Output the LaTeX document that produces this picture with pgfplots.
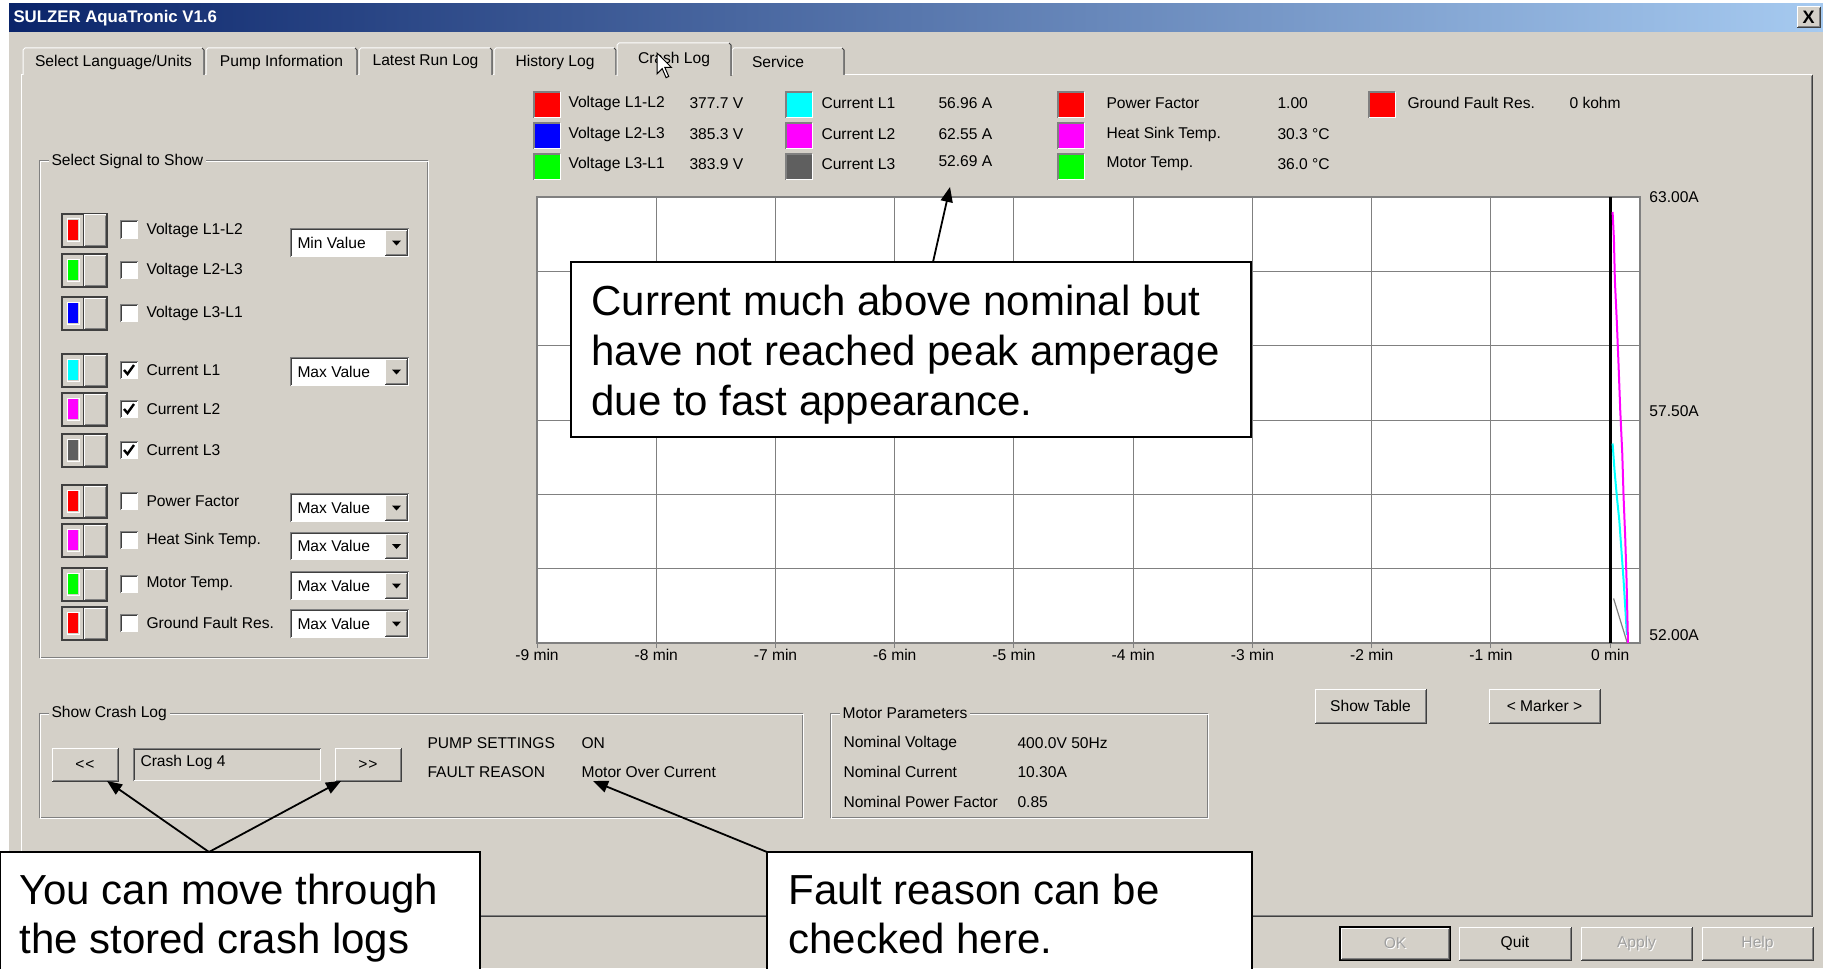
\documentclass[border=0pt]{standalone}
\usepackage{fontspec}
\setmainfont{Liberation Sans}
\usepackage{pgfplots}
\pgfplotsset{compat=1.18}
\usetikzlibrary{arrows.meta}

\definecolor{guibg}{HTML}{D4D0C8}
\definecolor{navy}{HTML}{0A246A}
\definecolor{ltblue}{HTML}{A6CAF0}
\definecolor{shadow}{HTML}{808080}
\definecolor{dkshadow}{HTML}{404040}
\definecolor{swgray}{HTML}{5F5F5F}
\definecolor{grn}{HTML}{00FF00}
\definecolor{cyn}{HTML}{00FFFF}
\definecolor{mag}{HTML}{FF00FF}
\definecolor{disabled}{HTML}{A0A0A0}

\newcommand\gui{\fontsize{7.8}{9}\selectfont}
\newcommand\callout{\fontsize{21}{25}\selectfont}

% widgets, all in screen pixels
\newcommand\raised[4]{%
  \fill[guibg] (#1,#2) rectangle (#3,#4);
  \draw[white] (#1,#4) -- (#1,#2) -- (#3,#2);
  \draw[dkshadow] (#1,#4) -- (#3,#4) -- (#3,#2);
  \draw[shadow] (#1+1,#4-1) -- (#3-1,#4-1) -- (#3-1,#2+1);
}
\newcommand\sunken[4]{%
  \fill[white] (#1,#2) rectangle (#3,#4);
  \draw[shadow] (#1,#4) -- (#1,#2) -- (#3,#2);
  \draw[dkshadow] (#1+1,#4-1) -- (#1+1,#2+1) -- (#3-1,#2+1);
}
\newcommand\group[5]{%
  \draw[shadow] (#1,#2) rectangle (#3,#4);
  \draw[white] (#1+1,#2+1) rectangle (#3+1,#4+1);
  \node[fill=guibg, inner xsep=1.5pt, inner ysep=0pt, anchor=west] at (#1+9,#2) {\gui #5};
}
\newcommand\txt[3]{\node[anchor=west, inner sep=0pt] at (#1,#2) {\gui #3};}
\newcommand\swatch[3]{%
  \fill[#3] (#1,#2-13) rectangle (#1+26,#2+13);
  \draw[shadow, line width=1pt] (#1,#2+13) -- (#1,#2-13) -- (#1+26,#2-13);
  \draw[white] (#1,#2+13) -- (#1+26,#2+13) -- (#1+26,#2-13);
}
\newcommand\colbtn[2]{%
  \fill[guibg] (62,#1-16) rectangle (107,#1+17);
  \draw[dkshadow, line width=1pt] (62,#1-16) rectangle (107,#1+17);
  \fill[#2] (68,#1-10) rectangle (78,#1+10);
  \draw[white] (67,#1-11) rectangle (79,#1+11);
  \raised{84}{#1-15}{106}{#1+16}
  \draw[dkshadow] (83,#1-15) -- (83,#1+16);
}
\newcommand\chk[1]{\sunken{120}{#1-9}{138}{#1+9}}
\newcommand\dropdown[3]{%
  \sunken{290}{#1}{409}{#2}
  \txt{297}{{(#1+#2)/2}}{#3}
  \raised{385}{#1+2}{407}{#2-2}
  \fill[black] (392,{(#1+#2)/2-2}) -- (401,{(#1+#2)/2-2}) -- (396.5,{(#1+#2)/2+3}) -- cycle;
}
\newcommand\btn[5]{%
  \raised{#1}{#2}{#3}{#4}
  \node[inner sep=0pt] at ({(#1+#3)/2},{(#2+#4)/2}) {\gui #5};
}
\newcommand\offbtn[5]{%
  \raised{#1}{#2}{#3}{#4}
  \node[inner sep=0pt, text=white] at ({(#1+#3)/2+1},{(#2+#4)/2+1}) {\gui #5};
  \node[inner sep=0pt, text=disabled] at ({(#1+#3)/2},{(#2+#4)/2}) {\gui #5};
}

\begin{document}
\begin{tikzpicture}
\useasboundingbox (0,0) rectangle (911.5pt,-484pt);
\clip (0,0) rectangle (911.5pt,-484pt);
\begin{scope}[x=0.5pt, y=-0.5pt, line width=0.5pt]
  % window
  \fill[white] (0,0) rectangle (1823,968);
  \fill[guibg] (9,4) rectangle (1823,968);
  \shade[left color=navy, right color=ltblue] (9,4) rectangle (1823,32);
  \node[anchor=west, inner sep=0pt, text=white] at (13,18) {\fontsize{8.4}{10}\selectfont\bfseries SULZER AquaTronic V1.6};
  \raised{1797}{7}{1820}{28}
  \node[inner sep=0pt] at (1808.5,17.5) {\fontsize{9}{10}\selectfont\bfseries X};

  % tab panel
  \draw[white] (21,916) -- (21,75) -- (1812,75);
  \draw[dkshadow] (21,916) -- (1812,916) -- (1812,75);
  \draw[shadow] (22,915) -- (1811,915) -- (1811,76);
  \foreach \a/\b/\t/\c in {23/204/Select Language{/}Units/113.5, 206/357/Pump Information/281.5,
      359/492/Latest Run Log/425.5, 494/616/History Log/555, 732/844/Service/778}{
    \fill[guibg] (\a,48) rectangle (\b,75);
    \draw[white] (\a,75) -- (\a,50) -- (\a+2,48) -- (\b-2,48);
    \draw[dkshadow] (\b-2,48) -- (\b,50) -- (\b,75);
    \draw[shadow] (\b-1,50) -- (\b-1,75);
    \node[inner sep=0pt] at (\c,62) {\gui \t};
  }
  \fill[guibg] (617,43) rectangle (731,77);
  \draw[white] (617,76) -- (617,45) -- (619,43) -- (729,43);
  \draw[dkshadow] (729,43) -- (731,45) -- (731,76);
  \draw[shadow] (730,45) -- (730,76);
  \node[inner sep=0pt] at (674,59) {\gui Crash Log};
  % mouse pointer
  \draw[black, fill=white, line width=0.5pt, shift={(657,53)}, scale=1.3]
    (0,0) -- (0,16) -- (4,12) -- (7,19) -- (9,18) -- (6,11) -- (11,11) -- cycle;

  % legend above the plot
  \swatch{534}{105}{red}  \txt{568}{103}{Voltage L1-L2} \txt{689}{103}{377.7 V}
  \swatch{534}{136}{blue} \txt{568}{134}{Voltage L2-L3} \txt{689}{134}{385.3 V}
  \swatch{534}{167}{grn}  \txt{568}{164}{Voltage L3-L1} \txt{689}{164}{383.9 V}
  \swatch{786}{105}{cyn}  \txt{821}{103}{Current L1} \txt{938}{103}{56.96 A}
  \swatch{786}{136}{mag}  \txt{821}{134}{Current L2} \txt{938}{134}{62.55 A}
  \swatch{786}{167}{swgray} \txt{821}{164}{Current L3} \txt{938}{161}{52.69 A}
  \swatch{1058}{105}{red} \txt{1106}{103}{Power Factor} \txt{1277}{103}{1.00}
  \swatch{1058}{136}{mag} \txt{1106}{134}{Heat Sink Temp.} \txt{1277}{134}{30.3 °C}
  \swatch{1058}{167}{grn} \txt{1106}{164}{Motor Temp.} \txt{1277}{164}{36.0 °C}
  \swatch{1369}{105}{red} \txt{1407}{103}{Ground Fault Res.} \txt{1569}{103}{0 kohm}

  % signal selection
  \group{39}{161}{427}{657}{Select Signal to Show}
  \foreach \yy/\cc/\ll/\kk in {230/red/Voltage L1-L2/0, 270/grn/Voltage L2-L3/0,
      313/blue/Voltage L3-L1/0, 370/cyn/Current L1/1, 409/mag/Current L2/1,
      450/swgray/Current L3/1, 501/red/Power Factor/0, 540/mag/Heat Sink Temp./0,
      584/grn/Motor Temp./0, 623/red/Ground Fault Res./0}{
    \colbtn{\yy}{\cc}
    \chk{\yy}
    \ifnum\kk=1 \draw[black, line width=1.2pt] (124,\yy) -- (127.5,\yy+4) -- (134,\yy-5);\fi
    \txt{146}{\yy}{\ll}
  }
  \dropdown{228}{257}{Min Value}
  \dropdown{357}{386}{Max Value}
  \dropdown{493}{522}{Max Value}
  \dropdown{532}{560}{Max Value}
  \dropdown{571}{600}{Max Value}
  \dropdown{609}{638}{Max Value}

  % buttons under the plot
  \btn{1315}{689}{1426}{723}{Show Table}
  \btn{1489}{689}{1600}{723}{< Marker >}

  % crash log box
  \group{39}{713}{802}{817}{Show Crash Log}
  \btn{52}{748}{118}{781}{<\kern0.4pt<}
  \sunken{133}{748}{321}{781}
  \fill[guibg] (135,750) rectangle (320,780);
  \txt{140}{762}{Crash Log 4}
  \btn{335}{748}{401}{781}{>\kern0.4pt>}
  \txt{427}{743}{PUMP SETTINGS} \txt{581}{743}{ON}
  \txt{427}{772}{FAULT REASON}  \txt{581}{772}{Motor Over Current}

  % motor parameters box
  \group{830}{713}{1207}{817}{Motor Parameters}
  \txt{843}{743}{Nominal Voltage}      \txt{1017}{743}{400.0V 50Hz}
  \txt{843}{772}{Nominal Current}      \txt{1017}{772}{10.30A}
  \txt{843}{802}{Nominal Power Factor} \txt{1017}{802}{0.85}

  % dialog buttons
  \draw[black, line width=1pt] (1340,927) rectangle (1450,960);
  \offbtn{1341}{928}{1449}{959}{OK}
  \btn{1459}{927}{1571}{960}{Quit}
  \offbtn{1581}{927}{1692}{960}{Apply}
  \offbtn{1702}{927}{1813}{960}{Help}

  \coordinate (axSW) at (537,643);
\end{scope}

\begin{axis}[
  at={(axSW)}, anchor=south west,
  scale only axis, width=551.5pt, height=223pt,
  xmin=-9, xmax=0.25, ymin=52, ymax=63,
  axis background/.style={fill=white},
  axis line style={draw=shadow, line width=1pt},
  tick label style={font=\gui},
  xtick={-9,-8,-7,-6,-5,-4,-3,-2,-1,0},
  xticklabels={-9 min,-8 min,-7 min,-6 min,-5 min,-4 min,-3 min,-2 min,-1 min,0 min},
  xmajorgrids, grid style={draw=shadow, line width=0.5pt},
  tick align=outside, major tick length=2.5pt,
  xtick style={draw=shadow, line width=0.5pt},
  xtick pos=bottom,
  xticklabel style={inner sep=0pt, yshift=-0.5pt},
  ytick={52.2,57.72,63}, yticklabels={52.00A,57.50A,63.00A},
  yticklabel pos=right, ytick style={draw=none},
  yticklabel style={inner sep=0pt, xshift=2pt},
  minor ytick={53.8333,55.6667,57.5,59.3333,61.1667},
  yminorgrids, minor grid style={draw=shadow, line width=0.5pt},
  minor tick length=0pt,
]
% marker position
\addplot[black, line width=1.5pt] coordinates {(0.005,52) (0.005,63)};
% Current L3
\addplot[shadow, line width=0.6pt] coordinates {(0.028,53.1) (0.140,52.03)};
% Current L1
\addplot[cyn, line width=1pt] coordinates {
  (0.020,56.92) (0.036,56.26) (0.056,55.60) (0.076,55.03) (0.092,54.37)
  (0.112,53.55) (0.134,52.49) (0.140,52.20)};
% Current L2
\addplot[mag, line width=1pt] coordinates {
  (0.020,62.63) (0.031,61.97) (0.039,60.95) (0.056,59.88) (0.070,58.85)
  (0.084,57.74) (0.101,56.68) (0.112,55.61) (0.126,54.58) (0.137,53.55)
  (0.149,52.00)};
\end{axis}

\begin{scope}[x=0.5pt, y=-0.5pt]
  \tikzset{note/.style={draw=black, fill=white, line width=0.8pt},
           pointer/.style={black, line width=0.9pt, -{Triangle[length=7.5pt,width=6pt]}}}
  % callout over the plot
  \draw[note] (571,262) rectangle (1251,437);
  \node[anchor=base west, inner sep=0pt] at (591,315) {\callout Current much above nominal but};
  \node[anchor=base west, inner sep=0pt] at (591,365) {\callout have not reached peak amperage};
  \node[anchor=base west, inner sep=0pt] at (591,415) {\callout due to fast appearance.};
  \draw[pointer] (933,262) -- (950,187);
  % callout for the log buttons
  \draw[note] (0,852) rectangle (480,980);
  \node[anchor=base west, inner sep=0pt] at (19,904) {\callout You can move through};
  \node[anchor=base west, inner sep=0pt] at (19,953) {\callout the stored crash logs};
  \draw[pointer] (209,852) -- (107,781);
  \draw[pointer] (209,852) -- (341,781);
  % callout for the fault reason
  \draw[note] (767,852) rectangle (1252,980);
  \node[anchor=base west, inner sep=0pt] at (788,904) {\callout Fault reason can be};
  \node[anchor=base west, inner sep=0pt] at (788,953) {\callout checked here.};
  \draw[pointer] (767,852) -- (593,781);
\end{scope}
\end{tikzpicture}
\end{document}
